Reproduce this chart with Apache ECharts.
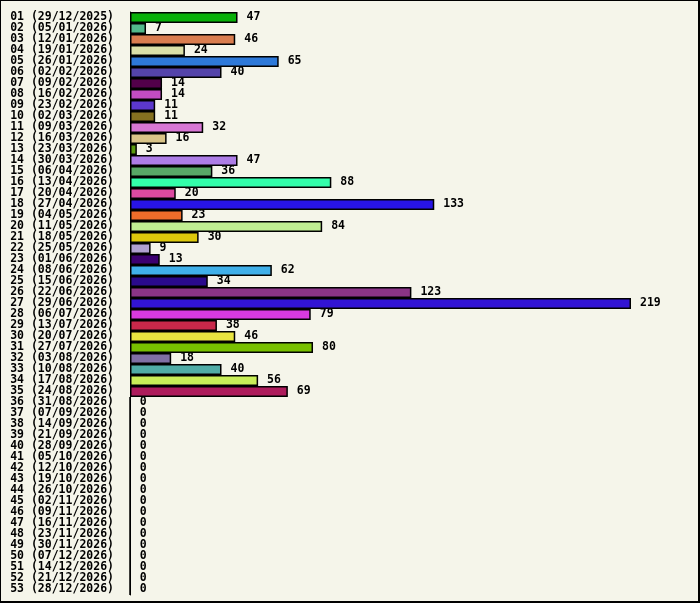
<!DOCTYPE html>
<html lang="en">
<head>
  <meta charset="UTF-8">
  <title>Weekly bars</title>
  <script src="https://cdn.jsdelivr.net/npm/echarts@6/dist/echarts.min.js"></script>
  <style>
    html, body { margin: 0; padding: 0; background: #f5f5ea; }
    #chart {
      width: 700px; height: 603px; box-sizing: border-box;
      border: 1px solid #000; border-right-width: 2px; border-bottom-width: 2px;
      background: #f5f5ea;
    }
  </style>
  <script>
    const weeks = [
      '01 (29/12/2025)', '02 (05/01/2026)', '03 (12/01/2026)', '04 (19/01/2026)', '05 (26/01/2026)',
      '06 (02/02/2026)', '07 (09/02/2026)', '08 (16/02/2026)', '09 (23/02/2026)', '10 (02/03/2026)',
      '11 (09/03/2026)', '12 (16/03/2026)', '13 (23/03/2026)', '14 (30/03/2026)', '15 (06/04/2026)',
      '16 (13/04/2026)', '17 (20/04/2026)', '18 (27/04/2026)', '19 (04/05/2026)', '20 (11/05/2026)',
      '21 (18/05/2026)', '22 (25/05/2026)', '23 (01/06/2026)', '24 (08/06/2026)', '25 (15/06/2026)',
      '26 (22/06/2026)', '27 (29/06/2026)', '28 (06/07/2026)', '29 (13/07/2026)', '30 (20/07/2026)',
      '31 (27/07/2026)', '32 (03/08/2026)', '33 (10/08/2026)', '34 (17/08/2026)', '35 (24/08/2026)',
      '36 (31/08/2026)', '37 (07/09/2026)', '38 (14/09/2026)', '39 (21/09/2026)', '40 (28/09/2026)',
      '41 (05/10/2026)', '42 (12/10/2026)', '43 (19/10/2026)', '44 (26/10/2026)', '45 (02/11/2026)',
      '46 (09/11/2026)', '47 (16/11/2026)', '48 (23/11/2026)', '49 (30/11/2026)', '50 (07/12/2026)',
      '51 (14/12/2026)', '52 (21/12/2026)', '53 (28/12/2026)'
    ]
    const counts = [
      47, 7, 46, 24, 65, 40, 14, 14, 11, 11,
      32, 16, 3, 47, 36, 88, 20, 133, 23, 84,
      30, 9, 13, 62, 34, 123, 219, 79, 38, 46,
      80, 18, 40, 56, 69, 0, 0, 0, 0, 0,
      0, 0, 0, 0, 0, 0, 0, 0, 0, 0,
      0, 0, 0
    ]
    const barColors = [
      '#08b008', '#52b98a', '#d97d4f', '#dbe0a8', '#2e79d9', '#5444aa', '#52004a', '#c24cc2', '#5c38cc', '#847020',
      '#d877d4', '#d9c488', '#5a9a10', '#ad7de6', '#58a866', '#33ffaa', '#dc4aa0', '#2814e6', '#ee6c2a', '#c0ee92',
      '#dcc80c', '#b0a0d0', '#3c0070', '#40b0ea', '#2a0a8c', '#8a3486', '#3214d4', '#d83ae0', '#c8284a', '#e8e440',
      '#78c000', '#8070a4', '#50aca6', '#c8ee58', '#ae1c5c'
    ]

    addEventListener('load', () => {
      let chart = echarts.init(document.querySelector('#chart'))
      const font = {fontFamily: 'DejaVu Sans Mono', fontWeight: 'bold', fontSize: 11.5, color: '#000'}
      let data = counts.map((v, i) => ({
        value: v,
        itemStyle: {color: barColors[i] || '#888'}
      }))
      chart.setOption({
        animation: false,
        backgroundColor: '#f5f5ea',
        grid: {left: 129, right: 67, top: 11, bottom: 6, containLabel: false},
        xAxis: {
          type: 'value', min: 0, max: 219,
          show: false
        },
        yAxis: {
          type: 'category', data: weeks, inverse: true,
          axisLine: {show: true, lineStyle: {color: '#000', width: 1}},
          axisTick: {show: false},
          axisLabel: Object.assign({margin: 16, interval: 0, padding: [2, 0, 0, 0]}, font)
        },
        series: [{
          type: 'bar', data,
          barWidth: '100%',
          itemStyle: {borderColor: '#000', borderWidth: 1.5},
          label: Object.assign({show: true, position: 'right', distance: 9, padding: [2, 0, 0, 0]}, font)
        }]
      })
    })
  </script>
</head>
<body>
  <div id="chart"></div>
</body>
</html>
